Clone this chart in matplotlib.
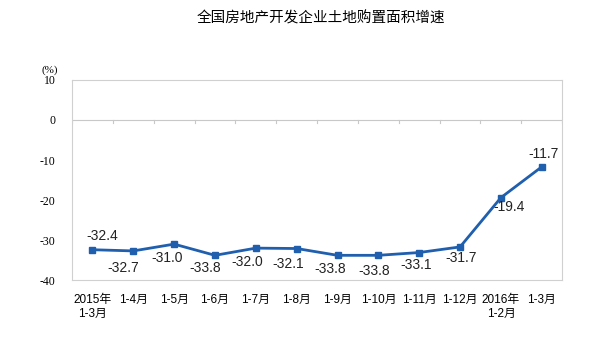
import matplotlib
matplotlib.use('Agg')
import matplotlib.pyplot as plt
import numpy as np

plt.rcParams['font.family'] = ['Liberation Sans', 'Noto Sans CJK SC', 'DejaVu Sans']

title = '全国房地产开发企业土地购置面积增速'
categories = ['2015年\n1-3月', '1-4月', '1-5月', '1-6月', '1-7月', '1-8月',
              '1-9月', '1-10月', '1-11月', '1-12月', '2016年\n1-2月', '1-3月']
values = [-32.4, -32.7, -31.0, -33.8, -32.0, -32.1,
          -33.8, -33.8, -33.1, -31.7, -19.4, -11.7]

# label offsets in points (layout only)
offsets = [(7, 10), (-7, -12), (-5, -10), (-7, -9), (-6, -10), (-6, -11),
           (-5, -10), (-3, -11), (-2, -9), (1, -8), (6, -7), (1, 9)]

fig = plt.figure(figsize=(6, 3.4), dpi=100)
ax = fig.add_axes([0.12, 0.176, 0.817, 0.589])

x = np.arange(len(values))
color = '#1F5FAE'
ax.plot(x, values, color=color, lw=2, marker='s', ms=5, zorder=3)

for xi, v, (dx, dy) in zip(x, values, offsets):
    ax.annotate(f'{v:.1f}', (xi, v), xytext=(dx, dy), textcoords='offset points',
                ha='center', va='center', fontsize=10, color='#222222')

ax.set_xlim(-0.5, len(values) - 0.5)
ax.set_ylim(-40, 10)
ax.set_yticks(range(-40, 11, 10))
ax.set_yticklabels([str(t) for t in range(-40, 11, 10)], fontsize=8.5,
                   family=['Liberation Serif'])
ax.tick_params(axis='y', length=0, pad=12)

ax.set_xticks(x)
ax.set_xticklabels(categories, fontsize=8.5, linespacing=1.2)
ax.tick_params(axis='x', length=0, pad=10)

for s in ax.spines.values():
    s.set_color('#D0D0D0')
    s.set_linewidth(0.8)

# zero line with category boundary ticks
ax.axhline(0, color='#C8C8C8', lw=0.8, zorder=1)
for b in np.arange(-0.5, len(values), 1.0):
    ax.plot([b, b], [0, -0.8], color='#C8C8C8', lw=0.8, zorder=1)

fig.text(0.535, 0.945, title, ha='center', va='center', fontsize=10.5,
         family=['Noto Sans CJK SC'])
fig.text(0.083, 0.795, '(%)', ha='center', va='center', fontsize=8,
         family=['Liberation Serif'])

fig.savefig('out.png', dpi=100, facecolor='white')
